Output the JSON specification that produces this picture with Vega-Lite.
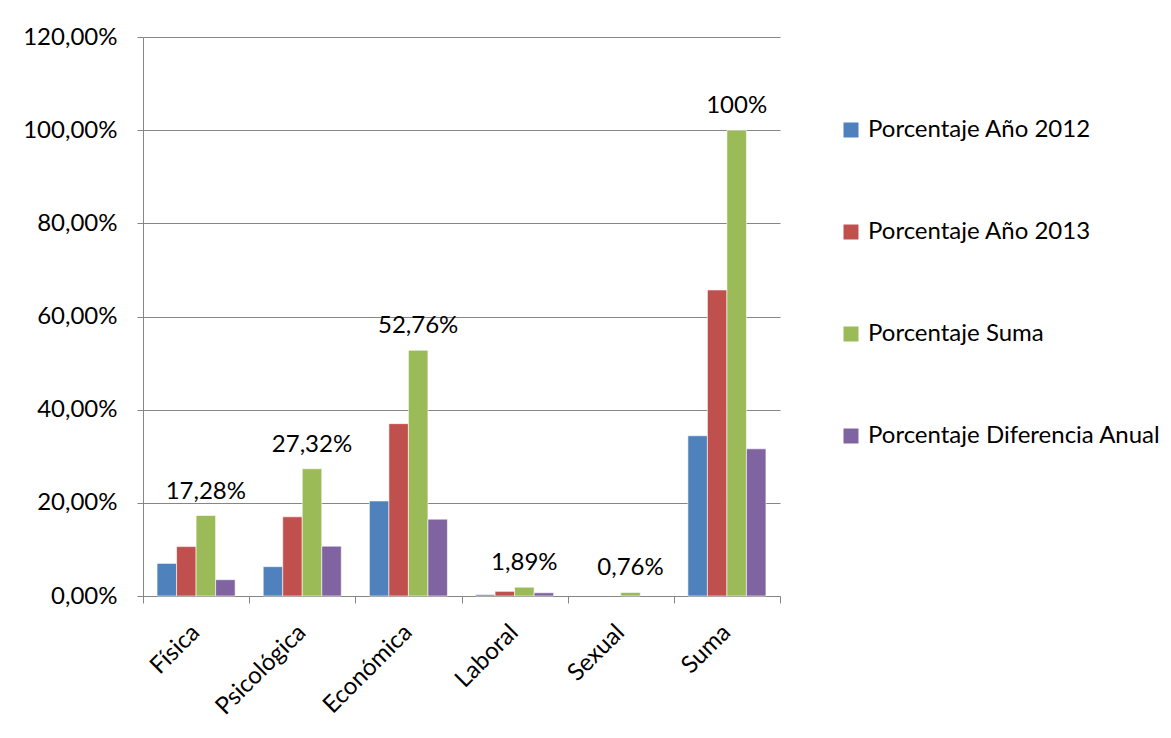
{
  "$schema": "https://vega.github.io/schema/vega-lite/v6.json",
  "autosize": {"type": "none"},
  "width": 637,
  "height": 559,
  "padding": {"left": 143, "top": 37, "right": 391, "bottom": 142},
  "background": "white",
  "config": {
    "font": "Lato",
    "view": {"stroke": null},
    "axis": {"labelFont": "Lato", "labelColor": "#000000", "labelFontSize": 24, "domainColor": "#868686", "tickColor": "#868686", "gridColor": "#868686", "title": null}
  },
  "data": {
    "values": [
      {"categoria": "Física", "serie": "Porcentaje Año 2012", "valor": 7.0},
      {"categoria": "Física", "serie": "Porcentaje Año 2013", "valor": 10.6},
      {"categoria": "Física", "serie": "Porcentaje Suma", "valor": 17.28},
      {"categoria": "Física", "serie": "Porcentaje Diferencia Anual", "valor": 3.5},
      {"categoria": "Psicológica", "serie": "Porcentaje Año 2012", "valor": 6.3},
      {"categoria": "Psicológica", "serie": "Porcentaje Año 2013", "valor": 17.0},
      {"categoria": "Psicológica", "serie": "Porcentaje Suma", "valor": 27.32},
      {"categoria": "Psicológica", "serie": "Porcentaje Diferencia Anual", "valor": 10.7},
      {"categoria": "Económica", "serie": "Porcentaje Año 2012", "valor": 20.4},
      {"categoria": "Económica", "serie": "Porcentaje Año 2013", "valor": 37.0},
      {"categoria": "Económica", "serie": "Porcentaje Suma", "valor": 52.76},
      {"categoria": "Económica", "serie": "Porcentaje Diferencia Anual", "valor": 16.5},
      {"categoria": "Laboral", "serie": "Porcentaje Año 2012", "valor": 0.3},
      {"categoria": "Laboral", "serie": "Porcentaje Año 2013", "valor": 1.0},
      {"categoria": "Laboral", "serie": "Porcentaje Suma", "valor": 1.89},
      {"categoria": "Laboral", "serie": "Porcentaje Diferencia Anual", "valor": 0.7},
      {"categoria": "Sexual", "serie": "Porcentaje Año 2012", "valor": 0},
      {"categoria": "Sexual", "serie": "Porcentaje Año 2013", "valor": 0},
      {"categoria": "Sexual", "serie": "Porcentaje Suma", "valor": 0.76},
      {"categoria": "Sexual", "serie": "Porcentaje Diferencia Anual", "valor": 0},
      {"categoria": "Suma", "serie": "Porcentaje Año 2012", "valor": 34.4},
      {"categoria": "Suma", "serie": "Porcentaje Año 2013", "valor": 65.7},
      {"categoria": "Suma", "serie": "Porcentaje Suma", "valor": 100},
      {"categoria": "Suma", "serie": "Porcentaje Diferencia Anual", "valor": 31.6}
    ]
  },
  "encoding": {
    "x": {
      "field": "categoria", "type": "nominal", "sort": null,
      "scale": {"paddingInner": 0, "paddingOuter": 0},
      "axis": {"labelAngle": -45, "labelAlign": "right", "labelBaseline": "top", "labelOffset": -9, "tickBand": "extent", "tickSize": 7, "labelPadding": 17, "grid": false, "domainColor": "#868686"}
    },
    "xOffset": {
      "field": "serie", "type": "nominal", "sort": null,
      "scale": {"paddingInner": 0, "paddingOuter": 0.72}
    },
    "y": {
      "field": "valor", "type": "quantitative",
      "scale": {"domain": [0, 120], "nice": false},
      "axis": {"values": [0, 20, 40, 60, 80, 100, 120], "labelExpr": "replace(format(datum.value, '.2f'), '.', ',') + '%'", "tickSize": 6, "labelPadding": 20, "grid": true}
    }
  },
  "layer": [
    {
      "transform": [{"filter": "datum.valor > 0"}],
      "mark": {"type": "bar", "stroke": "white", "strokeWidth": 0.6},
      "encoding": {
        "color": {
          "field": "serie", "type": "nominal", "sort": null,
          "scale": {
            "domain": ["Porcentaje Año 2012", "Porcentaje Año 2013", "Porcentaje Suma", "Porcentaje Diferencia Anual"],
            "range": ["#4F81BD", "#C0504D", "#9BBB59", "#8064A2"]
          },
          "legend": {
            "title": null, "orient": "none", "legendX": 696, "legendY": 81,
            "symbolType": "square", "symbolSize": 225, "symbolStrokeWidth": 0,
            "labelFont": "Lato", "labelFontSize": 24, "labelColor": "#000000",
            "rowPadding": 78, "labelOffset": 5, "labelLimit": 400
          }
        }
      }
    },
    {
      "transform": [
        {"filter": "datum.serie === 'Porcentaje Suma'"},
        {"calculate": "datum.valor === 100 ? '100%' : replace(format(datum.valor, '.2f'), '.', ',') + '%'", "as": "etiqueta"}
      ],
      "mark": {"type": "text", "baseline": "bottom", "dy": -12, "fontSize": 24, "font": "Lato", "color": "#000000"},
      "encoding": {"text": {"field": "etiqueta"}}
    }
  ]
}
